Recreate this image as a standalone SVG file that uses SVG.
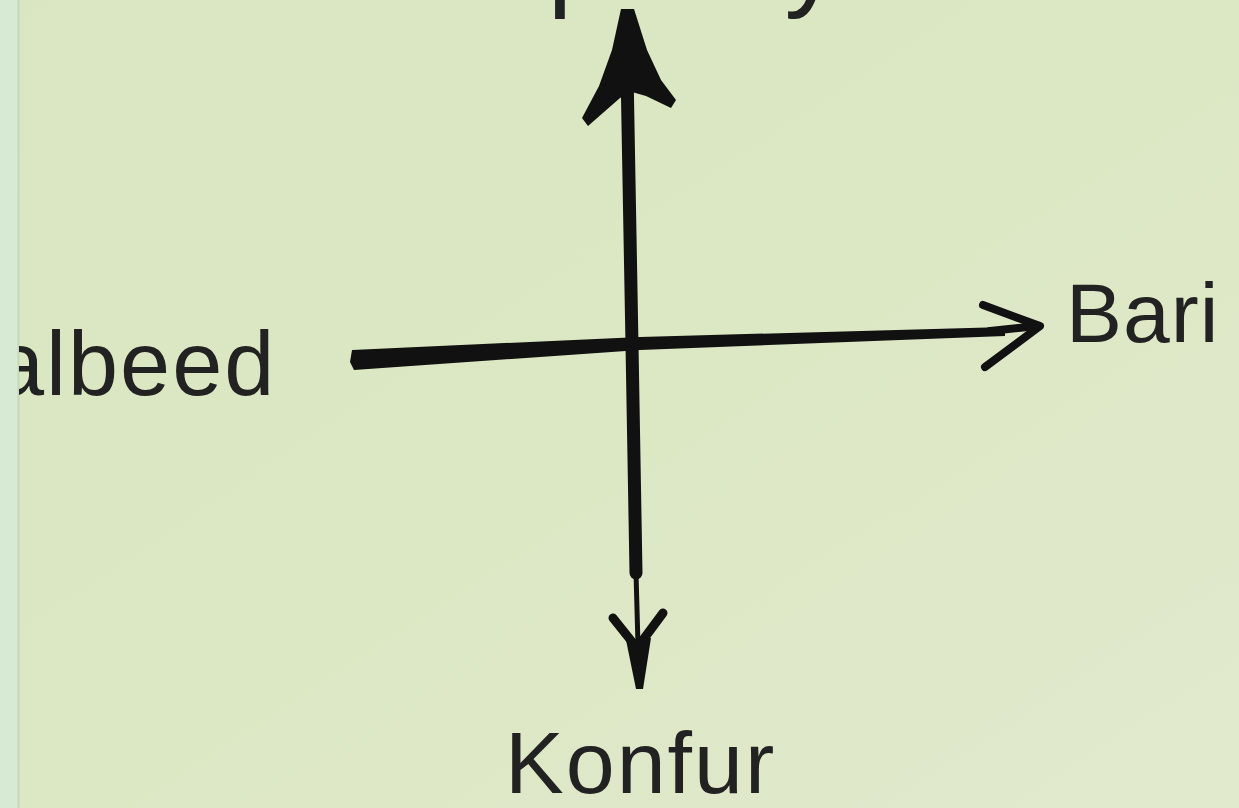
<svg xmlns="http://www.w3.org/2000/svg" width="1239" height="808" viewBox="0 0 1239 808">
  <defs>
    <linearGradient id="paper" x1="0" y1="0" x2="1" y2="1">
      <stop offset="0" stop-color="#dae6c2"/>
      <stop offset="0.5" stop-color="#dce7c4"/>
      <stop offset="1" stop-color="#e1eacd"/>
    </linearGradient>
    <clipPath id="leftClip">
      <rect x="19" y="0" width="1220" height="808"/>
    </clipPath>
    <style>
      .lbl { font-family: "Liberation Sans", Arial, sans-serif; fill: #222; }
      .ink { fill: #111; stroke: none; }
      .inkline { fill: none; stroke: #111; stroke-linecap: round; stroke-linejoin: round; }
    </style>
  </defs>

  <rect x="0" y="0" width="1239" height="808" fill="url(#paper)"/>
  <rect x="0" y="0" width="18" height="808" fill="#d6ead4"/>
  <line x1="18.5" y1="0" x2="18.5" y2="808" stroke="#c5d7ba" stroke-width="2"/>

  <g id="node-top">
    <text class="lbl" x="288" y="-4" font-size="110" letter-spacing="30">Woqooyi</text>
  </g>
  <g id="node-left" clip-path="url(#leftClip)">
    <text class="lbl" x="-6" y="395" font-size="90" letter-spacing="2">albeed</text>
  </g>
  <g id="node-right">
    <text class="lbl" x="1066" y="342" font-size="84" letter-spacing="1">Bari</text>
  </g>
  <g id="node-bottom">
    <text class="lbl" x="505" y="793" font-size="88" letter-spacing="2">Konfur</text>
  </g>

  <g id="connectors">
    <!-- vertical axis -->
    <path class="inkline" d="M627,70 L632,345 L636,573" stroke-width="13"/>
    <path class="inkline" d="M636,573 L638,645" stroke-width="5"/>
    <!-- top arrowhead -->
    <path class="ink" d="M621,9 L634,9 L647,50 L661,80 L676,100 L671,108 L646,96 L632,92 L620,98 L588,126 L582,118 L599,86 L612,50 Z"/>
    <!-- bottom arrowhead -->
    <path class="inkline" d="M613,618 L637,648 L663,613" stroke-width="9"/>
    <path class="ink" d="M626,640 L651,638 L643,689 L636,689 Z"/>
    <!-- horizontal axis -->
    <path class="ink" d="M352,350 L640,337 L1005,327 L1005,336 L640,350 L354,370 L350,362 Z"/>
    <path class="inkline" d="M983,305 L1040,326 L985,367" stroke-width="8"/>
    <path class="inkline" d="M990,331 L1038,326" stroke-width="8"/>
  </g>
</svg>
